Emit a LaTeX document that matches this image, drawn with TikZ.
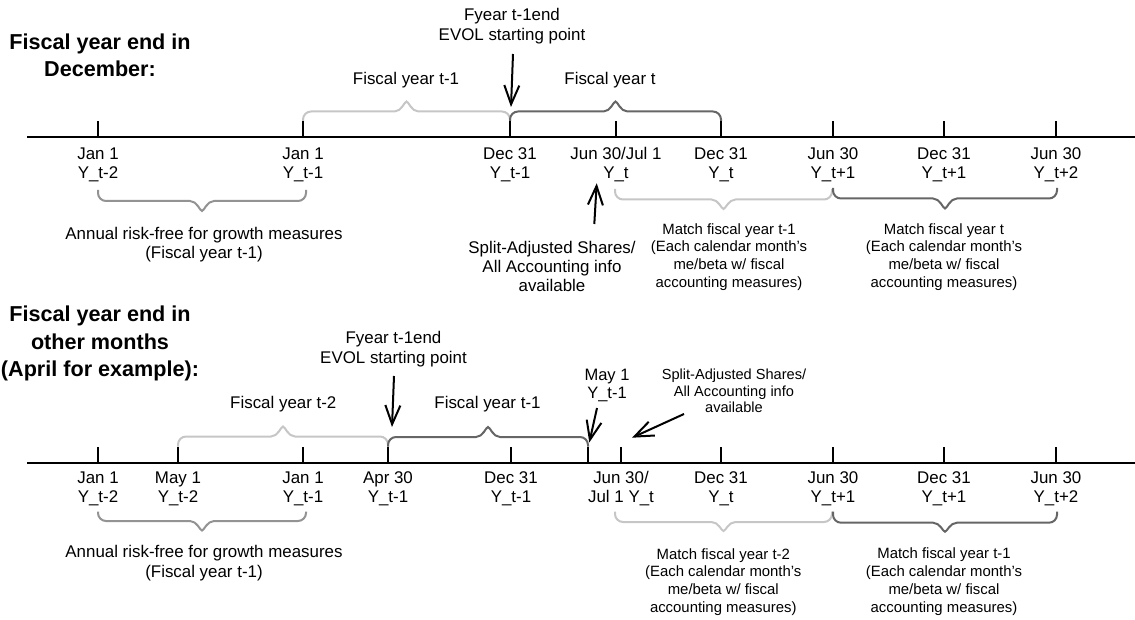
\documentclass[tikz,border=0pt]{standalone}
\usepackage{fontspec}
\setmainfont{Liberation Sans}
\usetikzlibrary{arrows.meta}
\definecolor{lightbr}{HTML}{C6C6C6}
\definecolor{midbr}{HTML}{939393}
\definecolor{darkbr}{HTML}{666666}
% #1 style, #2 x1, #3 x2, #4 y of ends, #5 y of horizontal, #6 y of tip
\newcommand\tlbrace[6]{%
  \pgfmathsetmacro\bm{(#2+#3)/2}%
  \pgfmathsetmacro\br{ifthenelse(#4>#5,8,-8)}%
  \draw[#1] ({#2},{#4}) -- ({#2},{#5+(\br)})
    .. controls ({#2},{#5+0.45*(\br)}) and ({#2+3.6},{#5}) .. ({#2+8},{#5})
    -- ({\bm-12},{#5})
    .. controls ({\bm-5},{#5}) and ({\bm-2},{#6}) .. ({\bm},{#6})
    .. controls ({\bm+2},{#6}) and ({\bm+5},{#5}) .. ({\bm+12},{#5})
    -- ({#3-8},{#5})
    .. controls ({#3-3.6},{#5}) and ({#3},{#5+0.45*(\br)}) .. ({#3},{#5+(\br)})
    -- ({#3},{#4});%
}
\begin{document}
\begin{tikzpicture}[x=1pt,y=-1pt,
  axis/.style={line width=2.2pt},
  tickmark/.style={line width=2pt},
  brc/.style={line width=2pt},
  arr/.style={line width=2pt,-{Straight Barb[length=19pt,width=15pt]}},
  lbl/.style={inner sep=0pt,anchor=base,align=center,font=\fontsize{16.9}{19.5}\selectfont},
  small/.style={inner sep=0pt,anchor=base,align=center,font=\fontsize{14.9}{17.7}\selectfont},
  ttl/.style={inner sep=0pt,anchor=base,align=center,font=\bfseries\fontsize{21.6}{27.3}\selectfont}
]
\useasboundingbox (0,0) rectangle (1135,620);
% (node positions below are the baseline of the LAST line of each text)

% ================= TOP: December =================
\node[ttl] (title1) at (100,76.6) {Fiscal year end in\\December:};
\draw[axis] (27,137) coordinate (axA0) -- (1135,137) coordinate (axA1);
\foreach \x/\n in {98/a,303/b,510/c,616/d,721/e,833/f,944/g,1056/h}
  \draw[tickmark] (\x,137) -- (\x,121) coordinate (ta\n);

\node[lbl] (la) at (98,178.8)   {Jan 1\\Y\_t-2};
\node[lbl] (lb) at (303,178.8)  {Jan 1\\Y\_t-1};
\node[lbl] (lc) at (510,178.8)  {Dec 31\\Y\_t-1};
\node[lbl] (ld) at (616,178.8)  {Jun 30/Jul 1\\Y\_t};
\node[lbl] (le) at (721,178.8)  {Dec 31\\Y\_t};
\node[lbl] (lf) at (833,178.8)  {Jun 30\\Y\_t+1};
\node[lbl] (lg) at (944,178.8)  {Dec 31\\Y\_t+1};
\node[lbl] (lh) at (1056,178.8) {Jun 30\\Y\_t+2};

\tlbrace{brc,lightbr}{303}{510}{121}{111.5}{101.5}
\tlbrace{brc,darkbr}{510}{721}{121}{111.5}{101.5}
\node[lbl] (fyA1) at (406,84.7) {Fiscal year t-1};
\node[lbl] (fyA0) at (610,84.7) {Fiscal year t};

\node[lbl] (evolA) at (512,40.5) {Fyear t-1end\\EVOL starting point};
\coordinate (evA0) at (513,54);
\coordinate (evA1) at (511,107);
\draw[arr] (evA0) -- (evA1);

\tlbrace{brc,midbr}{98}{306}{190}{201}{211}
\node[lbl] (rfA) at (204,259) {Annual risk-free for growth measures\\(Fiscal year t-1)};

\node[lbl] (spA) at (552,292) {Split-Adjusted Shares/\\All Accounting info\\available};
\coordinate (spA0) at (594.3,224);
\coordinate (spA1) at (596.7,183.3);
\draw[arr] (spA0) -- (spA1);

\tlbrace{brc,lightbr}{615}{832}{189}{199.5}{209}
\tlbrace{brc,darkbr}{833}{1057}{188}{198.5}{208.5}
\node[small] (mA1) at (729,287.3) {Match fiscal year t-1\\(Each calendar month’s\\me/beta w/ fiscal\\accounting measures)};
\node[small] (mA2) at (944,287.3) {Match fiscal year t\\(Each calendar month’s\\me/beta w/ fiscal\\accounting measures)};

% ================= BOTTOM: other months =================
\node[ttl] (title2) at (100,376.3) {Fiscal year end in\\other months\\(April for example):};
\draw[axis] (27,463.3) coordinate (axB0) -- (1135,463.3) coordinate (axB1);
\foreach \x/\n in {98/a,178/b,303/c,388/d,511/e,588/f,621/g,721/h,833/i,944/j,1056/k}
  \draw[tickmark] (\x,463.3) -- (\x,446.5) coordinate (tb\n);

\node[lbl] (ma) at (98,502.8)   {Jan 1\\Y\_t-2};
\node[lbl] (mb) at (178,502.8)  {May 1\\Y\_t-2};
\node[lbl] (mc) at (303,502.8)  {Jan 1\\Y\_t-1};
\node[lbl] (md) at (388,502.8)  {Apr 30\\Y\_t-1};
\node[lbl] (me) at (511,502.8)  {Dec 31\\Y\_t-1};
\node[lbl] (mg) at (621,502.8)  {Jun 30/\\Jul 1 Y\_t};
\node[lbl] (mh) at (721,502.8)  {Dec 31\\Y\_t};
\node[lbl] (mi) at (833,502.8)  {Jun 30\\Y\_t+1};
\node[lbl] (mj) at (944,502.8)  {Dec 31\\Y\_t+1};
\node[lbl] (mk) at (1056,502.8) {Jun 30\\Y\_t+2};

\tlbrace{brc,lightbr}{178}{388}{446.5}{436.5}{426.5}
\tlbrace{brc,darkbr}{388}{588}{446.5}{437}{427}
\node[lbl] (fyB2) at (283.3,408.3) {Fiscal year t-2};
\node[lbl] (fyB1) at (487.5,408) {Fiscal year t-1};

\node[lbl] (evolB) at (393.5,363.3) {Fyear t-1end\\EVOL starting point};
\coordinate (evB0) at (394,376);
\coordinate (evB1) at (392,427);
\draw[arr] (evB0) -- (evB1);

\node[lbl,font=\fontsize{16.5}{18.5}\selectfont] (mayB) at (607,398.8) {May 1\\Y\_t-1};
\coordinate (myB0) at (597,408);
\coordinate (myB1) at (589.3,442.5);
\draw[arr] (myB0) -- (myB1);

\node[small,font=\fontsize{14.6}{16.4}\selectfont] (spB) at (734,412.7) {Split-Adjusted Shares/\\All Accounting info\\available};
\coordinate (spB0) at (684,414);
\coordinate (spB1) at (632,437.7);
\draw[arr] (spB0) -- (spB1);

\tlbrace{brc,midbr}{98}{306}{511.7}{521}{530.5}
\node[lbl] (rfB) at (204,577.3) {Annual risk-free for growth measures\\(Fiscal year t-1)};

\tlbrace{brc,lightbr}{615}{832}{511.7}{522}{531}
\tlbrace{brc,darkbr}{833}{1057}{511.7}{522.7}{531.7}
\node[small] (mB1) at (723.3,612.3) {Match fiscal year t-2\\(Each calendar month’s\\me/beta w/ fiscal\\accounting measures)};
\node[small] (mB2) at (944,612) {Match fiscal year t-1\\(Each calendar month’s\\me/beta w/ fiscal\\accounting measures)};
\end{tikzpicture}
\end{document}
